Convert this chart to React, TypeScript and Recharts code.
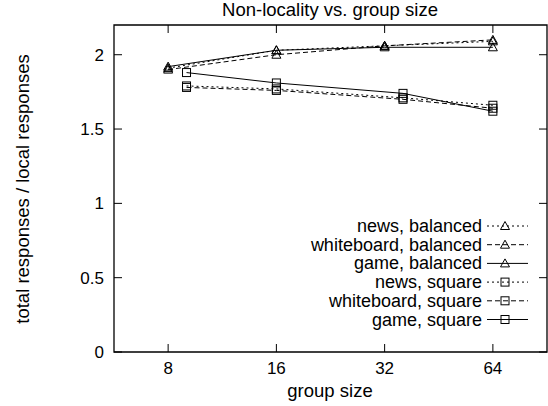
import { Line, LineChart, ReferenceArea, XAxis, YAxis } from "recharts";

// group sizes: balanced trees use powers of two, square grids use n*n
const balancedSizes = [8, 16, 32, 64];
const squareSizes = [9, 16, 36, 64];

const newsBalanced = [1.91, 2.03, 2.06, 2.09];
const whiteboardBalanced = [1.9, 2.0, 2.06, 2.1];
const gameBalanced = [1.92, 2.03, 2.05, 2.05];
const newsSquare = [1.79, 1.77, 1.71, 1.66];
const whiteboardSquare = [1.78, 1.76, 1.7, 1.64];
const gameSquare = [1.88, 1.81, 1.74, 1.62];

const xTicks = [8, 16, 32, 64];
const yTicks = [0, 0.5, 1, 1.5, 2];

const FONT = "'Liberation Sans', Arial, Helvetica, sans-serif";
const W = 548;
const H = 406;

type Marker = "triangle" | "square";

const series: {
  name: string;
  xs: number[];
  ys: number[];
  dash?: string;
  marker: Marker;
}[] = [
  { name: "news, balanced", xs: balancedSizes, ys: newsBalanced, dash: "2 3", marker: "triangle" },
  { name: "whiteboard, balanced", xs: balancedSizes, ys: whiteboardBalanced, dash: "5 3", marker: "triangle" },
  { name: "game, balanced", xs: balancedSizes, ys: gameBalanced, marker: "triangle" },
  { name: "news, square", xs: squareSizes, ys: newsSquare, dash: "2 3", marker: "square" },
  { name: "whiteboard, square", xs: squareSizes, ys: whiteboardSquare, dash: "5 3", marker: "square" },
  { name: "game, square", xs: squareSizes, ys: gameSquare, marker: "square" },
];

function MarkerShape({ cx, cy, marker }: { cx: number; cy: number; marker: Marker }) {
  if (marker === "triangle") {
    return (
      <polygon
        points={`${cx},${cy - 4.5} ${cx - 4.5},${cy + 3.5} ${cx + 4.5},${cy + 3.5}`}
        fill="none"
        stroke="#000"
        strokeWidth={1}
      />
    );
  }
  return <rect x={cx - 4} y={cy - 4} width={8} height={8} fill="none" stroke="#000" strokeWidth={1} />;
}

function BottomTick(props: any) {
  const { x, y, payload } = props;
  return (
    <g>
      <line x1={x} x2={x} y1={y} y2={y - 8} stroke="#000" />
      <text x={x} y={y + 22} textAnchor="middle" fontSize={17} fontFamily={FONT} fill="#000">
        {payload.value}
      </text>
    </g>
  );
}

function TopTick(props: any) {
  const { x, y } = props;
  return <line x1={x} x2={x} y1={y} y2={y + 8} stroke="#000" />;
}

function LeftTick(props: any) {
  const { x, y, payload } = props;
  return (
    <g>
      <line x1={x} x2={x + 8} y1={y} y2={y} stroke="#000" />
      <text x={x - 10} y={y + 6} textAnchor="end" fontSize={17} fontFamily={FONT} fill="#000">
        {payload.value}
      </text>
    </g>
  );
}

function RightTick(props: any) {
  const { x, y } = props;
  return <line x1={x} x2={x - 8} y1={y} y2={y} stroke="#000" />;
}

export default function App() {
  const xDomain = [4 * Math.SQRT2, 64 * Math.SQRT2];
  const legendTop = 226;
  const legendStep = 18.7;

  return (
    <div style={{ position: "absolute", left: 0, top: 0, width: W, height: H, background: "#fff" }}>
      <LineChart width={W} height={H} margin={{ top: 24, right: 0, bottom: 0, left: 0 }}>
        <XAxis
          xAxisId="b"
          dataKey="x"
          type="number"
          scale="log"
          domain={xDomain}
          ticks={xTicks}
          allowDataOverflow
          height={54}
          tickSize={0}
          tickMargin={0}
          tickLine={false}
          axisLine={false}
          tick={<BottomTick />}
          interval={0}
        />
        <XAxis
          xAxisId="t"
          orientation="top"
          dataKey="x"
          type="number"
          scale="log"
          domain={xDomain}
          ticks={xTicks}
          allowDataOverflow
          height={1}
          tickSize={0}
          tickMargin={0}
          tickLine={false}
          axisLine={false}
          tick={<TopTick />}
          interval={0}
        />
        <YAxis
          yAxisId="l"
          type="number"
          domain={[0, 2.2]}
          ticks={yTicks}
          allowDataOverflow
          width={114}
          tickSize={0}
          tickMargin={0}
          tickLine={false}
          axisLine={false}
          tick={<LeftTick />}
          interval={0}
        />
        <YAxis
          yAxisId="r"
          orientation="right"
          type="number"
          domain={[0, 2.2]}
          ticks={yTicks}
          allowDataOverflow
          width={1}
          tickSize={0}
          tickMargin={0}
          tickLine={false}
          axisLine={false}
          tick={<RightTick />}
          interval={0}
        />
        <ReferenceArea
          xAxisId="b"
          yAxisId="l"
          x1={xDomain[0]}
          x2={xDomain[1]}
          y1={0}
          y2={2.2}
          fill="none"
          fillOpacity={0}
          stroke="#000"
          strokeWidth={1.3}
          ifOverflow="visible"
        />
        {series.map((s) => (
          <Line
            key={s.name}
            xAxisId="b"
            yAxisId="l"
            data={s.xs.map((x, i) => ({ x, y: s.ys[i] }))}
            dataKey="y"
            type="linear"
            stroke="#000"
            strokeWidth={1}
            strokeDasharray={s.dash}
            dot={(p: any) => <MarkerShape key={`${s.name}-${p.index}`} cx={p.cx} cy={p.cy} marker={s.marker} />}
            activeDot={false}
            isAnimationActive={false}
          />
        ))}
      </LineChart>

      <svg
        width={W}
        height={H}
        style={{ position: "absolute", left: 0, top: 0, pointerEvents: "none" }}
        fontFamily={FONT}
      >
        <text x={330} y={16} textAnchor="middle" fontSize={18.5} fill="#000">
          Non-locality vs. group size
        </text>
        <text x={330} y={397} textAnchor="middle" fontSize={18.5} fill="#000">
          group size
        </text>
        <text
          x={29}
          y={189}
          textAnchor="middle"
          fontSize={18.5}
          fill="#000"
          transform="rotate(-90 29 189)"
        >
          total responses / local responses
        </text>
        {series.map((s, i) => {
          const cy = legendTop + i * legendStep;
          return (
            <g key={s.name}>
              <text x={482} y={cy + 6} textAnchor="end" fontSize={18} fill="#000">
                {s.name}
              </text>
              <line x1={487} x2={528} y1={cy} y2={cy} stroke="#000" strokeDasharray={s.dash} />
              <MarkerShape cx={505} cy={cy} marker={s.marker} />
            </g>
          );
        })}
      </svg>
    </div>
  );
}
